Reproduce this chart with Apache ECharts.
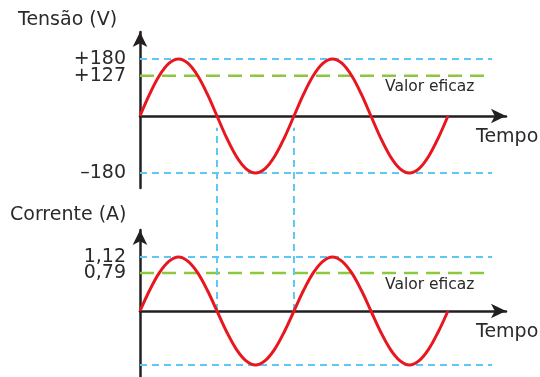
<!DOCTYPE html>
<html>
<head>
<meta charset="utf-8">
<script src="https://cdn.jsdelivr.net/npm/echarts@6/dist/echarts.min.js"></script>
<style>html,body{margin:0;padding:0;background:#fff}#c{width:540px;height:377px}</style>
</head>
<body>
<div id="c"></div>
<script>
// ---- data ----
var timePts = [0,0.0625,0.125,0.1875,0.25,0.3125,0.375,0.4375,0.5,0.5625,0.625,0.6875,0.75,0.8125,0.875,0.9375,1,
  1.0625,1.125,1.1875,1.25,1.3125,1.375,1.4375,1.5,1.5625,1.625,1.6875,1.75,1.8125,1.875,1.9375,2];
var voltage = [0,69,127,166,180,166,127,69,0,-69,-127,-166,-180,-166,-127,-69,0,
  69,127,166,180,166,127,69,0,-69,-127,-166,-180,-166,-127,-69,0];
var current = [0,0.43,0.79,1.03,1.12,1.03,0.79,0.43,0,-0.43,-0.79,-1.03,-1.12,-1.03,-0.79,-0.43,0,
  0.43,0.79,1.03,1.12,1.03,0.79,0.43,0,-0.43,-0.79,-1.03,-1.12,-1.03,-0.79,-0.43,0];
var voltTicks = [180, 127, -180];
var voltTickLabels = ['+180', '+127', '\u2013180'];
var currTicks = [1.12, 0.79];
var currTickLabels = ['1,12', '0,79'];
var voltPeak = 180, voltRms = 127;
var currPeak = 1.12, currRms = 0.79;
var refEnd = 2.286, rmsEnd = 2.26;
var crossTimes = [0.5, 1.0];
var crossTop = 3.8;   // current-axis value where the connecting lines start (below upper zero line)
var titles = {volt: 'Tens\u00e3o (V)', curr: 'Corrente (A)', time: 'Tempo', rms: 'Valor eficaz'};

function pairs(xs, ys) { return xs.map(function (x, i) { return [x, ys[i]]; }); }

var ink = '#2a2a2a';
var font = 'DejaVu Sans';
var cyan = '#5ec8f2', green = '#8dc63f', red = '#e8171f';
var ranges = [[-227.4, 265.3], [-1.369, 1.68]];

function axisLine() {
  return {show: true, onZero: true, symbol: ['none', 'arrow'], symbolSize: [11, 15],
    lineStyle: {color: '#231f20', width: 2.5}};
}
function xAx(gi) {
  return {type: 'value', gridIndex: gi, min: 0, max: 2.377, axisLine: axisLine(),
    axisTick: {show: false}, axisLabel: {show: false}, splitLine: {show: false}};
}
function yAx(gi) {
  return {type: 'value', gridIndex: gi, min: ranges[gi][0], max: ranges[gi][1], axisLine: axisLine(),
    axisTick: {show: false}, splitLine: {show: false}, axisLabel: {show: false}};
}
// one label-only axis per tick so that close labels are never dropped
function labelAx(gi, value, label) {
  return {type: 'value', gridIndex: gi, min: ranges[gi][0], max: ranges[gi][1], position: 'left', offset: 0,
    axisLine: {show: false}, axisTick: {show: false}, splitLine: {show: false},
    axisLabel: {show: true, customValues: [value], margin: 14, color: ink, fontFamily: font, fontSize: 19,
      formatter: function () { return label; }}};
}
function hline(gi, y, end, color, dash, w) {
  return {type: 'line', xAxisIndex: gi, yAxisIndex: gi, data: [[0, y], [end, y]], symbol: 'none',
    silent: true, z: 1, lineStyle: {color: color, width: w, type: dash}};
}
function wave(gi, ys) {
  return {type: 'line', xAxisIndex: gi, yAxisIndex: gi, data: pairs(timePts, ys), smooth: 0.35,
    symbol: 'none', z: 5, lineStyle: {color: red, width: 3}};
}

var yAxes = [yAx(0), yAx(1)];
voltTicks.forEach(function (v, i) { yAxes.push(labelAx(0, v, voltTickLabels[i])); });
currTicks.forEach(function (v, i) { yAxes.push(labelAx(1, v, currTickLabels[i])); });

var series = [
  hline(0, voltPeak, refEnd, cyan, [7, 5], 2),
  hline(0, -voltPeak, refEnd, cyan, [7, 5], 2),
  hline(0, voltRms, rmsEnd, green, [14, 8], 2.5),
  hline(1, currPeak, refEnd, cyan, [7, 5], 2),
  hline(1, -currPeak, refEnd, cyan, [7, 5], 2),
  hline(1, currRms, rmsEnd, green, [14, 8], 2.5),
  wave(0, voltage),
  wave(1, current)
];
crossTimes.forEach(function (t) {
  series.push({type: 'line', xAxisIndex: 1, yAxisIndex: 1, data: [[t, 0], [t, crossTop]], symbol: 'none',
    clip: false, silent: true, z: 3, lineStyle: {color: cyan, width: 2, type: [7, 5]}});
});

function txt(x, y, s, size) {
  return {type: 'text', x: x, y: y, style: {text: s, fill: ink, fontSize: size, fontFamily: font,
    verticalAlign: 'middle', align: 'left'}};
}

var chart = echarts.init(document.getElementById('c'), null, {renderer: 'canvas'});
chart.setOption({
  animation: false,
  backgroundColor: '#fff',
  grid: [
    {left: 140, top: 32, width: 366, height: 156},
    {left: 140, top: 230, width: 366, height: 147}
  ],
  xAxis: [xAx(0), xAx(1)],
  yAxis: yAxes,
  series: series,
  graphic: [
    txt(18, 20, titles.volt, 19),
    txt(10, 215, titles.curr, 19),
    txt(385, 87, titles.rms, 15.5),
    txt(385, 285, titles.rms, 15.5),
    txt(476, 137, titles.time, 19),
    txt(476, 332, titles.time, 19)
  ]
});
</script>
</body>
</html>
